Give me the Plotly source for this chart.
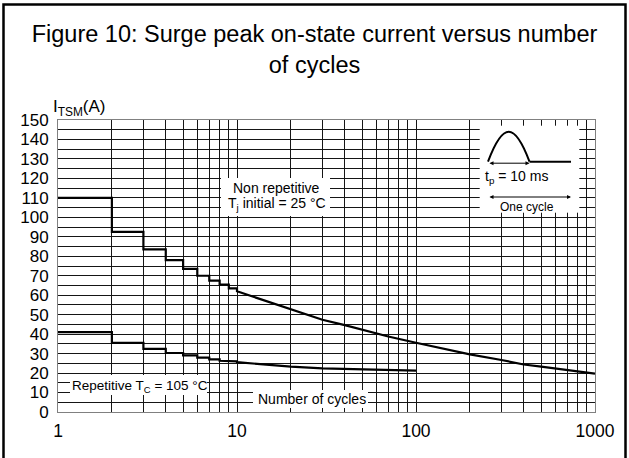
import plotly.graph_objects as go

# ---------------- data ----------------
step_cycles = [1, 2, 3, 4, 5, 6, 7, 8, 9, 10]
nonrep_step_values = [110, 92.5, 83.5, 78, 73.5, 70, 67.5, 65.5, 63.5]
nonrep_curve_cycles = [10, 15, 20, 30, 40, 50, 70, 100, 200, 300, 400, 500, 700, 1000]
nonrep_curve_values = [62, 56.7, 52.6, 47.4, 44.6, 42.2, 38.8, 35.6, 29.6, 26.7, 24.4, 23.3, 21.6, 19.7]

rep_step_values = [41, 35.5, 32.4, 30.3, 29.1, 27.9, 27.0, 26.3, 26.0]
rep_curve_cycles = [10, 15, 20, 30, 50, 70, 100]
rep_curve_values = [25.6, 24.2, 23.3, 22.4, 21.8, 21.5, 21.3]

x_tick_vals = [1, 10, 100, 1000]
x_tick_text = ["1", "10", "100", "1000"]
x_minor_vals = [m * d for d in (1, 10, 100) for m in range(2, 10)]

# inset: pulse duration / cycle length in ms
pulse_ms = 10
cycle_ms = 20

# ---------------- layout geometry (page pixel coordinates) ----------------
W, H = 629, 458
PL, PR, PT, PB = 58, 595, 120, 412
ML, MR, MT, MB = PL, W - PR, PT, H - PB


def px_x(p):
    return (p - PL) / (PR - PL)


def px_y(p):
    return (PB - p) / (PB - PT)


def stairs(cycles, step_vals, curve_x, curve_y):
    xs, ys = [], []
    for i, v in enumerate(step_vals):
        xs += [cycles[i], cycles[i + 1]]
        ys += [v, v]
    xs += list(curve_x)
    ys += list(curve_y)
    return xs, ys


FONT = "Liberation Sans, Arial, Helvetica, sans-serif"

fig = go.Figure()

nx, ny = stairs(step_cycles, nonrep_step_values, nonrep_curve_cycles, nonrep_curve_values)
rx, ry = stairs(step_cycles, rep_step_values, rep_curve_cycles, rep_curve_values)

fig.add_trace(go.Scatter(x=nx, y=ny, mode="lines", line=dict(color="black", width=2.2),
                         showlegend=False, hoverinfo="skip"))
fig.add_trace(go.Scatter(x=rx, y=ry, mode="lines", line=dict(color="black", width=2.2),
                         showlegend=False, hoverinfo="skip"))

# inset subplot geometry: x2 in ms, y2 normalised pulse height
ins_x0_px, ins_x1_px = 488.0, 571.0          # 0 ms .. 20 ms
ins_base_px, ins_peak_px = 161.7, 131.7       # 0 .. 1
ppm = (ins_x1_px - ins_x0_px) / cycle_ms
ppu = ins_base_px - ins_peak_px
x2_range = [-2.0, 22.0]
y2_range = [-1.7, 1.2]
x2_dom = [px_x(ins_x0_px + x2_range[0] * ppm), px_x(ins_x0_px + x2_range[1] * ppm)]
y2_dom = [px_y(ins_base_px - y2_range[0] * ppu), px_y(ins_base_px - y2_range[1] * ppu)]

# flat part of the cycle (after the pulse)
fig.add_trace(go.Scatter(x=[pulse_ms, cycle_ms], y=[0, 0], mode="lines",
                         line=dict(color="black", width=2), xaxis="x2", yaxis="y2",
                         showlegend=False, hoverinfo="skip"))

grid_col = "#151515"
fig.update_layout(
    width=W, height=H,
    margin=dict(l=ML, r=MR, t=MT, b=MB, pad=0),
    paper_bgcolor="white", plot_bgcolor="white",
    font=dict(family=FONT, color="black"),
    title=dict(text="Figure 10: Surge peak on-state current versus number<br>of cycles",
               x=0.5, xanchor="center", y=1 - 42 / H, yanchor="middle",
               font=dict(size=23.5, family=FONT, color="black")),
    xaxis=dict(type="log", range=[0, 3], tickmode="array", tickvals=x_tick_vals,
               ticktext=x_tick_text, showgrid=True, gridcolor=grid_col, gridwidth=1,
               minor=dict(tickmode="array", tickvals=x_minor_vals, showgrid=True,
                          gridcolor=grid_col, gridwidth=1, ticks=""),
               showline=True, mirror=True, linecolor="#808080", linewidth=1,
               ticks="outside", ticklen=3, tickcolor="rgba(0,0,0,0)",
               tickfont=dict(size=17.5), zeroline=False, fixedrange=True),
    yaxis=dict(range=[0, 150], tickmode="linear", tick0=0, dtick=10,
               showgrid=True, gridcolor=grid_col, gridwidth=1,
               minor=dict(dtick=5, showgrid=True, gridcolor=grid_col, gridwidth=1, ticks=""),
               showline=True, mirror=True, linecolor="#808080", linewidth=1,
               ticks="outside", ticklen=5, tickcolor="rgba(0,0,0,0)",
               tickfont=dict(size=17), zeroline=False, fixedrange=True),
    xaxis2=dict(domain=x2_dom, range=x2_range, anchor="y2", visible=False, fixedrange=True),
    yaxis2=dict(domain=y2_dom, range=y2_range, anchor="x2", visible=False, fixedrange=True),
)

shapes = []
# white boxes behind text labels
for (x0, y0, x1, y1) in [(221, 178, 330, 216), (70, 375, 207, 395), (253, 390, 368, 408)]:
    shapes.append(dict(type="rect", xref="paper", yref="paper", layer="above",
                       x0=px_x(x0), x1=px_x(x1), y0=px_y(y1), y1=px_y(y0),
                       fillcolor="white", line=dict(width=0)))
# inset white box (in inset subplot, below its own marks)
shapes.append(dict(type="rect", xref="x2", yref="y2", layer="below",
                   x0=(480 - ins_x0_px) / ppm, x1=(576 - ins_x0_px) / ppm,
                   y0=(ins_base_px - 212) / ppu, y1=(ins_base_px - 127) / ppu,
                   fillcolor="white", line=dict(width=0)))
# half-sine pulse
shapes.append(dict(type="path", xref="x2", yref="y2", layer="above",
                   path=f"M 0,0 C 3.6,1.33 6.4,1.33 {pulse_ms},0",
                   line=dict(color="black", width=2)))
# outer frame
shapes.append(dict(type="rect", xref="paper", yref="paper", layer="above",
                   x0=px_x(3.5), x1=px_x(625.5), y0=px_y(470), y1=px_y(4.5),
                   fillcolor="rgba(0,0,0,0)", line=dict(color="black", width=2.5)))
fig.update_layout(shapes=shapes)

ann = []


def label(text, xc, yc, size, xanchor="center"):
    ann.append(dict(text=text, xref="paper", yref="paper", x=px_x(xc), y=px_y(yc),
                    xanchor=xanchor, yanchor="middle", showarrow=False,
                    font=dict(size=size, family=FONT, color="black")))


label("Non repetitive", 276.5, 188, 14)
label("T<sub>j</sub> initial = 25 °C", 276.5, 204, 14)
label("Repetitive T<sub>C</sub> = 105 °C", 140, 386, 13.5)
label("Number of cycles", 311.5, 398.5, 14)
label("I<sub>TSM</sub>(A)", 51, 108, 17, xanchor="left")

# inset arrows and texts
for yv, x_end in [(-0.05, pulse_ms), ((ins_base_px - 197) / ppu, cycle_ms)]:
    ann.append(dict(text="", xref="x2", yref="y2", axref="x2", ayref="y2",
                    x=x_end, y=yv, ax=0, ay=yv, showarrow=True,
                    arrowhead=2, startarrowhead=2, arrowside="end+start",
                    arrowsize=0.8, startarrowsize=0.8, arrowwidth=1,
                    arrowcolor="black", standoff=0, startstandoff=0))
ann.append(dict(text="t<sub>p</sub> = 10 ms", xref="x2", yref="y2", x=6.9, y=-0.5,
                xanchor="center", yanchor="middle", showarrow=False,
                font=dict(size=14, family=FONT, color="black")))
ann.append(dict(text="One cycle", xref="x2", yref="y2", x=9.4, y=(ins_base_px - 207) / ppu,
                xanchor="center", yanchor="middle", showarrow=False,
                font=dict(size=12, family=FONT, color="black")))
fig.update_layout(annotations=ann)

# remove the browser's default 8px body margin so the figure sits at the page origin
fig.write_html("out.html", config={"displayModeBar": False},
               post_script="document.body.style.margin='0px';")
